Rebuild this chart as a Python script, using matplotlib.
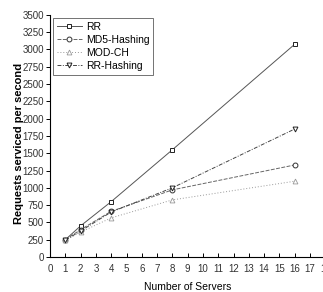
import matplotlib
matplotlib.use('Agg')
from matplotlib import pyplot as plt

plt.rcParams['font.family'] = ['Liberation Sans', 'DejaVu Sans']

servers = [1, 2, 4, 8, 16]
rr = [250, 450, 800, 1550, 3075]
md5_hashing = [250, 395, 660, 970, 1330]
mod_ch = [240, 360, 565, 825, 1095]
rr_hashing = [245, 375, 650, 1000, 1850]

x_ticks = list(range(0, 19))
y_ticks = list(range(0, 3501, 250))

fig = plt.figure(figsize=(3.23, 2.92), dpi=100)
ax = fig.add_axes([0.155, 0.12, 0.852, 0.829])

ax.plot(servers, rr, color='#555555', lw=0.7, ls='-', marker='s', ms=3.5,
        mfc='white', mec='#222222', mew=0.7, label='RR')
ax.plot(servers, md5_hashing, color='#666666', lw=0.7, ls=(0, (4, 1.5)), marker='o', ms=3.5,
        mfc='white', mec='#333333', mew=0.7, label='MD5-Hashing')
ax.plot(servers, mod_ch, color='#999999', lw=0.7, ls=(0, (1, 2)), marker='^', ms=3.5,
        mfc='white', mec='#999999', mew=0.6, label='MOD-CH')
ax.plot(servers, rr_hashing, color='#444444', lw=0.7, ls=(0, (4, 1.5, 1, 1.5)), marker='v', ms=3.5,
        mfc='white', mec='#222222', mew=0.7, label='RR-Hashing')

ax.set_xlim(0, 18)
ax.set_ylim(0, 3500)
ax.set_xticks(x_ticks)
ax.set_yticks(y_ticks)
ax.tick_params(axis='x', direction='in', length=3, labelsize=7, pad=5, width=0.7,
               labelcolor='#333333')
ax.tick_params(axis='y', direction='out', length=3, labelsize=7, pad=1.5, width=0.7,
               labelcolor='#333333')
for s in ['top', 'right']:
    ax.spines[s].set_visible(False)
for s in ['left', 'bottom']:
    ax.spines[s].set_linewidth(0.8)

ax.set_xlabel('Number of Servers', fontsize=7.5, labelpad=6)
ax.set_ylabel('Requests serviced per second', fontsize=8, fontweight='bold')
ax.yaxis.set_label_coords(-0.095, 0.467)

leg = ax.legend(loc='upper left', fontsize=7.5, frameon=True, fancybox=False,
                edgecolor='#333333', handlelength=2.4, borderaxespad=0.3,
                labelspacing=0.3, borderpad=0.35, handletextpad=0.4)
leg.get_frame().set_linewidth(0.6)

fig.savefig('out.png', dpi=100)
plt.close(fig)
